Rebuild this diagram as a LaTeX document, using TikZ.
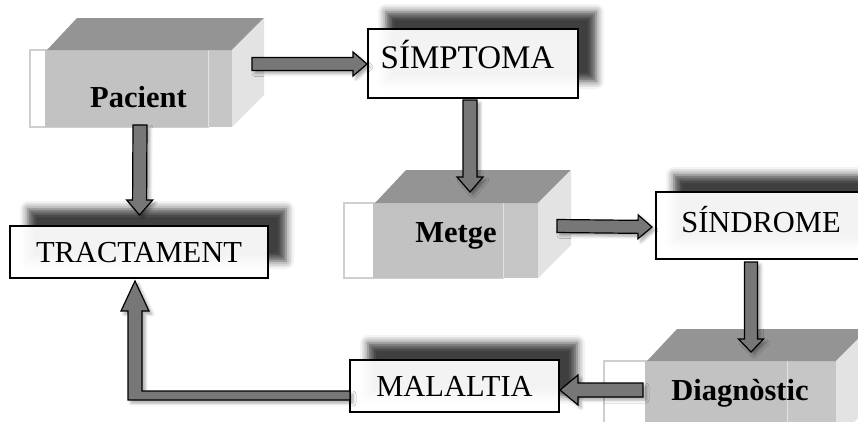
\documentclass[tikz,border=0pt]{standalone}
\usepackage{fontspec}
\setmainfont{Liberation Serif}
\usetikzlibrary{calc,shadows.blur}

\definecolor{arrowgray}{HTML}{777777}
\definecolor{topgray}{HTML}{949494}
\definecolor{frontgray}{HTML}{C2C2C2}
\definecolor{stripgray}{HTML}{C6C6C6}
\definecolor{sidegray}{HTML}{E3E3E3}
\definecolor{rimgray}{HTML}{CFCFCF}

\tikzset{
  txtbox/.style={draw=black, line width=1.3pt, fill=white, fill opacity=0.94,
    text opacity=1, inner sep=0pt, outer sep=0pt, text height=21pt,
    font=\fontsize{30.5}{36}\selectfont,
    blur shadow={shadow xshift=18pt, shadow yshift=17pt,
      shadow blur radius=8pt, shadow opacity=80}},
  cubefront/.style={fill=frontgray, inner sep=0pt, outer sep=0pt},
  cubelabel/.style={font=\bfseries\fontsize{30.5}{36}\selectfont, inner sep=0pt},
  blockarrow/.style={fill=arrowgray, draw=black, line width=1.2pt, line join=miter,
    blur shadow={shadow xshift=3pt, shadow yshift=-3pt,
      shadow blur radius=3pt, shadow opacity=35}}
}

% box in perspective: name, rim left, front left, divider, front right, top, bottom, depth
\newcommand\mycube[8]{%
  \filldraw[fill=white, draw=rimgray, line width=1.2pt] (#2,#6) rectangle (#4,#7);
  \node[cubefront, minimum width={(#5-#3)*1pt}, minimum height={(#7-#6)*1pt}]
    (#1) at ({(#3+#5)/2},{(#6+#7)/2}) {};
  \fill[stripgray] (#4,#6) rectangle (#5,#7);
  \draw[rimgray!60!white, line width=1pt] (#4,#6) -- (#4,#7);
  \fill[topgray] ({#3+2},#6) -- ({#3+#8},{#6-#8}) -- ({#5+#8},{#6-#8}) -- (#5,#6) -- cycle;
  \fill[sidegray] (#5,#6) -- ({#5+#8},{#6-#8}) -- ({#5+#8},{#7-#8}) -- (#5,#7) -- cycle;
}

% block arrow: from, to, shaft half width, head half width, head length
\newcommand\blockarr[5]{%
  \coordinate (hb) at ($(#2)!#5pt!(#1)$);
  \path[blockarrow] ($(#1)!#3pt!90:(#2)$) -- ($(hb)!#3pt!-90:(#1)$)
    -- ($(hb)!#4pt!-90:(#1)$) -- (#2) -- ($(hb)!#4pt!90:(#1)$)
    -- ($(hb)!#3pt!90:(#1)$) -- ($(#1)!#3pt!-90:(#2)$) -- cycle;
}

\begin{document}
\begin{tikzpicture}[x=1pt, y=-1pt]
  \useasboundingbox (0,0) rectangle (858,421);
  \clip (0,0) rectangle (858,421);

  % text boxes
  \node[txtbox, minimum width=210pt, minimum height=69pt, text depth=12pt,
    font=\fontsize{33}{38}\selectfont]
    (simp) at (473,63.5) {\hspace*{-11pt}SÍMPTOMA};
  \node[txtbox, minimum width=210pt, minimum height=67pt, text depth=8pt]
    (sind) at (761,225.5) {SÍNDROME};
  \node[txtbox, minimum width=209pt, minimum height=52pt, text depth=0pt]
    (malt) at (454.5,386) {MALALTIA};
  \node[txtbox, minimum width=258pt, minimum height=52pt, text depth=0pt]
    (tract) at (139,252) {TRACTAMENT};

  % boxes in perspective
  \mycube{pac}{30}{45}{208}{232}{50}{127}{32}
  \mycube{met}{344}{373}{503}{538}{203}{278}{33}
  \mycube{diag}{604}{645}{787}{836}{361}{440}{32}

  \node[cubelabel, anchor=base] (pacT) at (138.5,107) {Pacient};
  \node[cubelabel, anchor=base] (metT) at (456,242) {Metge};
  \node[cubelabel, anchor=base] (diagT) at (740,400) {Diagnòstic};

  % connectors
  \coordinate (a1s) at ($(pac.north east)+(20,14)$);
  \coordinate (a1e) at ($(simp.west)+(-1,0.5)$);
  \blockarr{a1s}{a1e}{6.5}{12}{14}

  \coordinate (a2s) at ($(simp.south)+(-3,2)$);
  \coordinate (a2e) at ($(met.north)+(14.5,-11)$);
  \blockarr{a2s}{a2e}{7}{13}{15}

  \coordinate (a3s) at ($(met.east)+(19,-14.5)$);
  \coordinate (a3e) at ($(sind.west)+(-4,1.5)$);
  \blockarr{a3s}{a3e}{6.5}{12}{14}

  \coordinate (a4s) at ($(sind.south)+(-10,3)$);
  \coordinate (a4e) at ($(diag.north)+(10.5,-9)$);
  \blockarr{a4s}{a4e}{6.5}{12.5}{13}

  \coordinate (a5s) at ($(diag.west |- malt.east)+(-2,4)$);
  \coordinate (a5e) at ($(malt.east)+(1,4)$);
  \blockarr{a5s}{a5e}{7}{15}{18}

  \coordinate (a6s) at ($(pac.south)+(1.5,-2)$);
  \coordinate (a6e) at ($(tract.north)+(0.5,-11)$);
  \blockarr{a6s}{a6e}{7}{13}{15}

  % bent arrow back to the treatment box
  \coordinate (tIn) at ($(tract.south)+(-4,3)$);
  \coordinate (mOut) at ($(malt.west)+(0,9.5)$);
  \coordinate (bend) at (tIn |- mOut);
  \path[blockarrow] ($(mOut)+(0,-4.5)$) -- ($(bend)+(7,-4.5)$) -- ($(tIn)+(7,30)$)
    -- ($(tIn)+(14,30)$) -- (tIn) -- ($(tIn)+(-14,30)$) -- ($(tIn)+(-7,30)$)
    -- ($(bend)+(-7,4.5)$) -- ($(mOut)+(0,4.5)$) -- cycle;
\end{tikzpicture}
\end{document}
